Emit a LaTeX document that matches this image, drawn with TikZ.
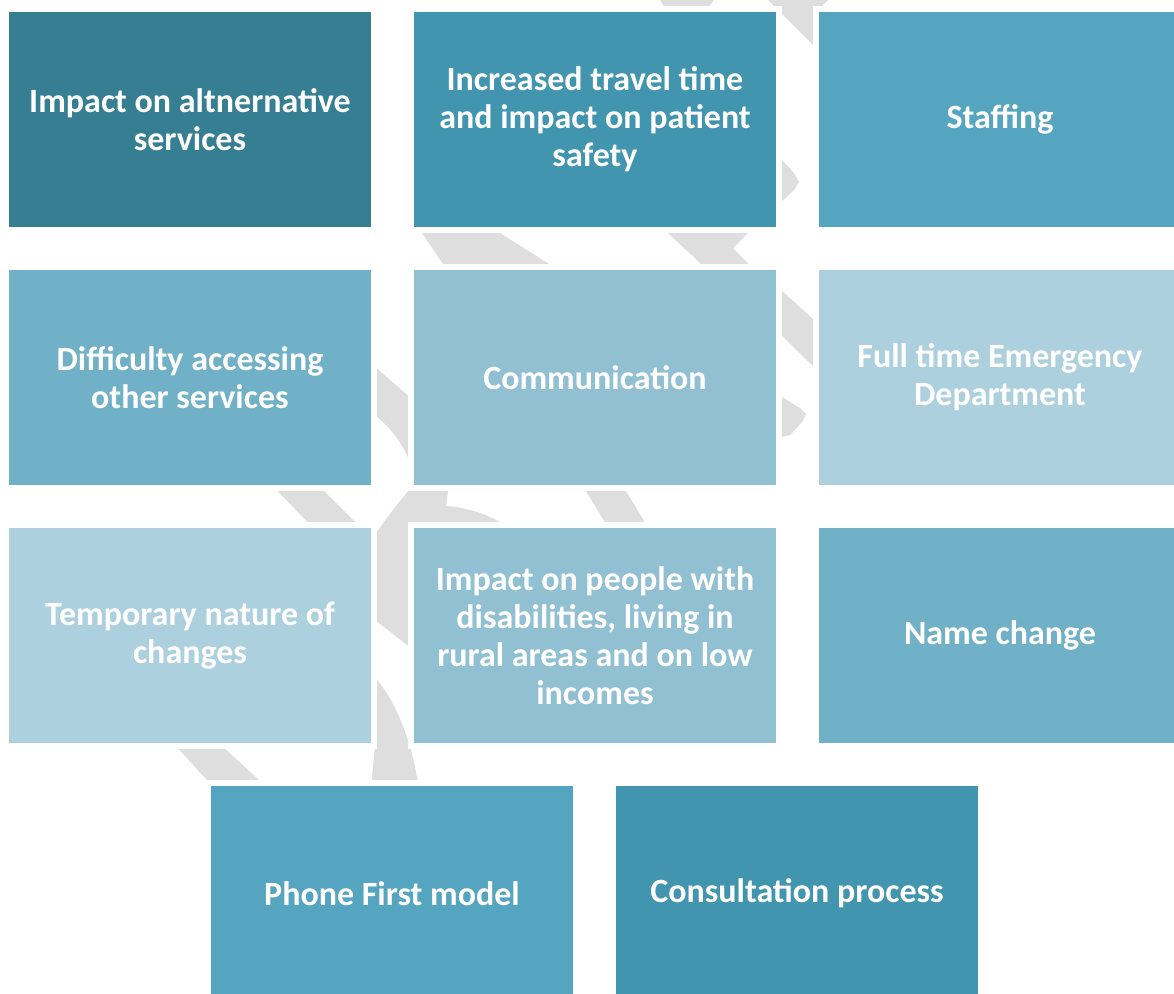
\documentclass[tikz,border=0pt]{standalone}
\usepackage{fontspec}
\setmainfont{Carlito}
\usepackage{tikz}
\usetikzlibrary{positioning}

\definecolor{shadeA}{HTML}{367E92}
\definecolor{shadeB}{HTML}{4295AE}
\definecolor{shadeC}{HTML}{55A5C0}
\definecolor{shadeD}{HTML}{70B1C7}
\definecolor{shadeE}{HTML}{91C0D2}
\definecolor{shadeF}{HTML}{ADD0DF}
\definecolor{swirlgray}{RGB}{222,222,222}

\begin{document}
\begin{tikzpicture}[
    x=0.75pt, y=-0.75pt,
    node distance=27.75pt,
    box/.style={
        draw=white,
        line width=4.5pt,
        minimum width=276pt,
        minimum height=165.75pt,
        inner sep=0pt,
        outer sep=0pt,
        align=center,
        text=white,
        font=\bfseries\fontsize{25.5}{28.5}\selectfont
    },
    swirl/.style={fill=swirlgray, draw=none}
]
\useasboundingbox (0,0) rectangle (1174,994);

% grey arrow band behind the boxes
\fill[swirl] (660,0) -- (714,0) -- (698,20) -- (672,20) -- cycle;
\fill[swirl] (768,0) -- (828,0) -- (816,12) -- (830,62) -- cycle;
\fill[swirl] (770,150) -- (782,160) -- (794,173) -- (799,182) -- (794,190) -- (782,201) -- (770,210) -- cycle;
\fill[swirl] (414,221) -- (481,221) -- (568,276) -- (451,276) -- cycle;
\fill[swirl] (655,221) -- (760,221) -- (733,248) -- (760,276) -- (714,276) -- cycle;
\fill[swirl] (770,280) -- (824,329) -- (824,377) -- (770,324) -- cycle;
\fill[swirl] (770,390) -- (782,397) -- (800,408) -- (806,414) -- (802,422) -- (790,435) -- (782,437) -- (770,437) -- cycle;
\fill[swirl] (365,358) -- (420,406) -- (420,490) .. controls (408,450) and (395,428) .. (365,408) -- cycle;
\fill[swirl] (265,478) -- (311,478) -- (367,534) -- (319,534) -- cycle;
\fill[swirl] (578,478) -- (618,478) -- (652,534) -- (612,534) -- cycle;
\fill[swirl] (420,478) -- (450,478) -- (446,506) -- (456,507) .. controls (474,510) and (492,516) .. (506,526)
    -- (420,526) -- (420,655) -- (366,613) -- (366,550) .. controls (380,525) and (398,502) .. (420,478) -- cycle;
\fill[swirl] (366,668) .. controls (392,692) and (412,735) .. (420,796) -- (371,796)
    .. controls (372,770) and (375,750) .. (376,730) -- cycle;
\fill[swirl] (166,735) -- (210,735) -- (270,790) -- (216,790) -- cycle;

% row 1
\node[box, fill=shadeA] (altsvc) at (190,119.5) {Impact on altnernative\\services};
\node[box, fill=shadeB] (travel) [right=of altsvc] {Increased travel time\\and impact on patient\\safety};
\node[box, fill=shadeC] (staff) [right=of travel] {Staffing};

% row 2
\node[box, fill=shadeD] (access) [below=of altsvc] {Difficulty accessing\\other services};
\node[box, fill=shadeE] (comms) [below=of travel] {Communication};
\node[box, fill=shadeF] (fulltime) [below=of staff] {Full time Emergency\\Department};

% row 3
\node[box, fill=shadeF] (temp) [below=of access] {Temporary nature of\\changes};
\node[box, fill=shadeE] (people) [below=of comms] {Impact on people with\\disabilities, living in\\rural areas and on low\\incomes};
\node[box, fill=shadeD] (rename) [below=of fulltime] {Name change};

% row 4
\node[box, fill=shadeC] (phone) [below=of temp, xshift=151.5pt] {Phone First model};
\node[box, fill=shadeB] (consult) [right=of phone] {Consultation process};

\end{tikzpicture}
\end{document}
